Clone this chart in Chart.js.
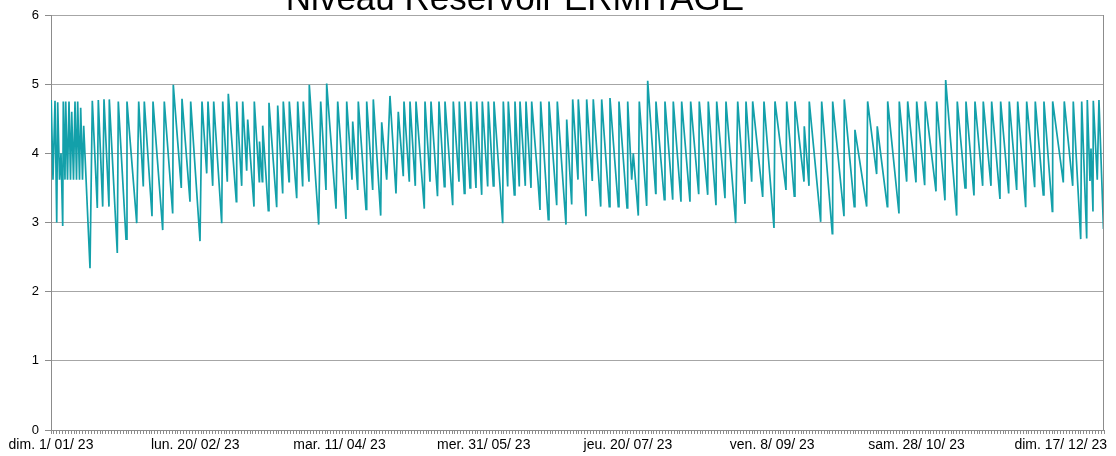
<!DOCTYPE html>
<html><head><meta charset="utf-8">
<script src="https://cdn.jsdelivr.net/npm/chart.js@4.4.1/dist/chart.umd.min.js"></script>
<style>html,body{margin:0;padding:0;background:#fff;}#c{display:block;}</style>
</head><body>
<canvas id="c" width="1116" height="456"></canvas>
<script>
// Readings: [day of year 2023 (0 = 1 Jan 00:00), level in m]
const janFeb = [[0.07,4.77],[0.69,3.62],[1.39,4.76],[1.98,3.0],[2.32,4.74],[2.95,3.62],[3.47,4.0],[4.06,2.95],[4.26,4.75],[4.85,3.62],[5.10,4.75],[5.72,3.62],[6.24,4.75],[6.76,3.62],[7.18,4.6],[7.80,3.62],[8.32,4.75],[8.84,3.62],[9.25,4.75],[9.88,3.62],[10.29,4.66],[10.92,3.62],[11.33,4.4],[13.52,2.34],[14.32,4.76],[16.05,3.21],[16.40,4.77],[17.92,3.23],[18.37,4.78],[20.10,3.23],[20.21,4.78],[22.98,2.56],[23.33,4.75],[26.00,2.76],[26.34,4.75],[29.71,2.99],[30.40,4.75],[31.99,3.52],[32.34,4.75],[35.01,3.09],[35.36,4.75],[38.72,2.89],[39.27,4.75],[42.18,3.13],[42.39,4.99],[45.16,3.5],[45.41,4.79],[48.18,3.3],[48.42,4.75],[51.65,2.73],[52.34,4.75],[53.97,3.71],[54.42,4.75],[56.05,3.53],[56.40,4.75],[59.17,2.99],[59.52,4.75]];
const marApr = [[61.11,3.59],[61.46,4.86],[64.23,3.3],[64.37,4.75],[66.10,3.53],[66.45,4.75],[67.83,3.75],[68.18,4.49],[70.36,3.23],[70.47,4.75],[72.20,3.59],[72.27,4.17],[73.24,3.59],[73.38,4.4],[75.32,3.17],[75.56,4.73],[78.23,3.22],[78.58,4.69],[80.31,3.42],[80.52,4.75],[82.50,3.59],[82.60,4.75],[85.17,3.35],[85.51,4.75],[87.24,3.52],[87.45,4.75],[89.43,3.59],[89.53,4.99],[92.79,2.97],[93.48,4.75],[95.32,3.47],[95.56,5.01],[98.79,3.2],[99.38,4.75],[102.25,3.05],[102.50,4.75],[104.33,3.62],[104.58,4.46],[106.31,3.47],[106.52,4.75],[109.19,3.19],[109.43,4.75],[111.51,3.47],[111.72,4.78],[114.28,3.1],[114.63,4.45],[116.36,3.62],[117.50,4.83],[119.58,3.42],[120.38,4.6]];
const mayJun = [[122.11,3.67],[122.36,4.75],[124.20,3.59],[124.44,4.75],[126.27,3.53],[126.52,4.75],[129.39,3.2],[129.64,4.75],[131.37,3.59],[131.72,4.75],[133.97,3.38],[134.49,4.75],[136.33,3.52],[136.57,4.75],[139.24,3.25],[139.45,4.75],[141.42,3.59],[141.53,4.75],[143.26,3.42],[143.50,4.75],[145.24,3.5],[145.48,4.75],[147.31,3.5],[147.56,4.75],[149.29,3.4],[149.50,4.75],[151.37,3.52],[151.58,4.75],[153.31,3.53],[153.55,4.75],[156.57,2.99],[156.78,4.75],[158.30,3.52],[158.51,4.75],[160.59,3.4],[160.83,4.75],[162.32,3.52],[162.57,4.75],[164.40,3.53],[164.65,4.75],[166.38,3.5],[166.62,4.75],[168.81,3.6],[169.50,3.18],[169.74,4.75],[172.37,3.04],[172.62,4.75],[175.29,3.25],[175.50,4.75],[178.51,2.97],[178.76,4.49],[180.49,3.26],[180.83,4.78]];
const julAug = [[182.67,3.62],[182.77,4.78],[185.44,3.09],[185.68,4.78],[187.62,3.6],[187.97,4.78],[190.54,3.23],[190.88,4.78],[193.52,3.23],[193.76,4.8],[196.64,3.23],[196.88,4.75],[199.66,3.21],[199.90,4.75],[201.29,3.62],[201.84,4.0],[203.57,3.1],[203.92,4.75],[206.48,3.24],[206.83,5.05],[209.60,3.42],[209.70,4.75],[212.58,3.33],[212.82,4.75],[215.50,3.33],[215.70,4.75],[218.37,3.3],[218.61,4.75],[221.49,3.3],[221.73,4.75],[224.51,3.41],[224.71,4.75],[227.63,3.4],[227.83,4.75],[230.50,3.25],[230.75,4.75],[233.62,3.35],[233.97,4.75],[237.33,2.99],[238.03,4.75],[240.56,3.27],[240.91,4.75],[242.88,3.59],[243.22,4.75]];
const sepOct = [[246.69,3.37],[247.14,4.75],[250.61,2.92],[250.95,4.75],[254.77,3.47],[255.01,4.75],[257.64,3.38],[257.88,4.75],[261.01,3.59],[261.11,4.39],[262.74,3.53],[262.84,4.75],[266.79,3.01],[267.14,4.75],[270.81,2.84],[270.95,4.75],[274.87,3.09],[274.97,4.78],[278.43,3.23],[278.67,4.34],[282.73,3.23],[283.07,4.75],[286.19,3.7],[286.40,4.39],[289.88,3.23],[290.02,4.75],[293.93,3.13],[294.04,4.75],[296.60,3.59],[296.95,4.75],[299.83,3.58],[300.07,4.75],[302.84,3.54],[303.05,4.75]];
const novDec = [[306.76,3.45],[307.00,4.75],[309.87,3.32],[310.12,5.06],[313.93,3.1],[314.14,4.75],[316.83,3.5],[317.16,4.75],[319.93,3.39],[320.28,4.75],[322.94,3.53],[323.15,4.75],[325.82,3.53],[326.06,4.75],[328.94,3.34],[329.18,4.75],[331.96,3.42],[332.17,4.75],[334.73,3.47],[335.08,4.75],[337.85,3.22],[338.20,4.75],[340.97,3.51],[341.18,4.75],[343.95,3.4],[344.19,4.75],[347.08,3.16],[347.21,4.75],[350.89,3.58],[351.23,4.75],[354.15,3.53],[354.35,4.75],[356.92,2.76],[357.27,4.75],[359.00,2.77],[359.21,4.77],[360.14,3.6],[360.49,4.07],[361.18,3.16],[361.29,4.76],[362.67,3.62],[363.25,4.77],[364.81,2.92],[364.98,3.27]];

const xTickDays = [0, 50, 100, 150, 200, 250, 300, 350];
const xTickLabels = ["dim. 1/ 01/ 23","lun. 20/ 02/ 23","mar. 11/ 04/ 23","mer. 31/ 05/ 23","jeu. 20/ 07/ 23","ven. 8/ 09/ 23","sam. 28/ 10/ 23","dim. 17/ 12/ 23"];
const yTicks = [0, 1, 2, 3, 4, 5, 6];
const chartTitle = "Niveau Réservoir ERMITAGE";

const points = [].concat(janFeb, marApr, mayJun, julAug, sepOct, novDec).map(r => ({x: r[0], y: r[1]}));

const titlePlugin = {
  id: 'topTitle',
  afterDraw(chart) {
    const ctx = chart.ctx;
    ctx.save();
    ctx.font = '35px "Liberation Sans", Arial, sans-serif';
    ctx.fillStyle = '#000';
    ctx.textAlign = 'center';
    ctx.textBaseline = 'alphabetic';
    ctx.fillText(chartTitle, 515, 10);
    ctx.restore();
  }
};
const framePlugin = {
  id: 'frame',
  afterDatasetsDraw(chart) {
    const a = chart.chartArea, ctx = chart.ctx;
    ctx.save();
    ctx.strokeStyle = '#8c8c8c';
    ctx.lineWidth = 1;
    ctx.beginPath();
    ctx.moveTo(Math.round(a.right) - 0.5, a.top);
    ctx.lineTo(Math.round(a.right) - 0.5, a.bottom);
    ctx.stroke();
    ctx.restore();
  }
};

new Chart(document.getElementById('c'), {
  type: 'line',
  data: {
    datasets: [{
      data: points,
      borderColor: '#13a0aa',
      borderWidth: 1.7,
      pointRadius: 0,
      tension: 0,
      fill: false
    }]
  },
  options: {
    responsive: false,
    animation: false,
    events: [],
    layout: { padding: { top: 15, right: 12, left: 0, bottom: 0 } },
    plugins: { legend: { display: false }, tooltip: { enabled: false }, title: { display: false } },
    scales: {
      x: {
        type: 'linear',
        min: 0, max: 365,
        afterFit(s) { s.height = 26; s.paddingLeft = 0; s.paddingRight = 0; },
        afterBuildTicks(s) { s.ticks = []; for (let d = 0; d <= 365; d++) s.ticks.push({value: d}); },
        ticks: {
          autoSkip: false, maxRotation: 0, minRotation: 0, padding: 3,
          color: '#000',
          font: { family: '"Liberation Sans", Arial, sans-serif', size: 14 },
          callback(v) { const i = xTickDays.indexOf(v); return i >= 0 ? xTickLabels[i] : ''; }
        },
        grid: { drawOnChartArea: false, tickLength: 4, color: '#8c8c8c' },
        border: { color: '#8c8c8c' }
      },
      y: {
        min: 0, max: 6,
        afterFit(s) { s.width = 51; },
        afterBuildTicks(s) { s.ticks = yTicks.map(v => ({value: v})); },
        ticks: {
          padding: 6, color: '#000',
          font: { family: '"Liberation Sans", Arial, sans-serif', size: 13 }
        },
        grid: { color: '#a6a6a6', tickLength: 6, tickColor: '#8c8c8c' },
        border: { color: '#8c8c8c' }
      }
    }
  },
  plugins: [titlePlugin, framePlugin]
});
</script>
</body></html>
